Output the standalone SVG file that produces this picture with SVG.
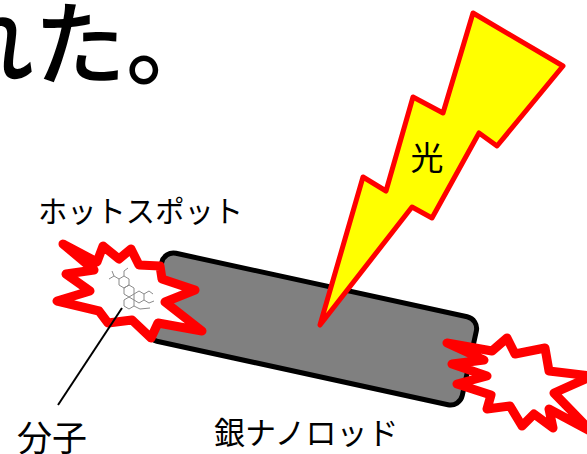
<svg xmlns="http://www.w3.org/2000/svg" width="587" height="454" viewBox="0 0 587 454">
  <style>
    .jp { font-family: "Noto Sans CJK JP", "Noto Sans", sans-serif; fill: #000; }
    .burst { fill: #fff; stroke: #ff0000; stroke-width: 9; stroke-linejoin: round; }
    .mol { fill: none; stroke: #8a8a8a; stroke-width: 1; }
  </style>

  <rect width="587" height="454" fill="#fff"/>

  <!-- headline fragment -->
  <text class="jp" x="-58" y="78" font-size="92" font-weight="500">れた。</text>

  <!-- silver nanorod -->
  <g id="nanorod">
    <rect x="-161" y="-45" width="322" height="90" rx="12" transform="translate(312,329) rotate(12.3)" fill="#808080" stroke="#000" stroke-width="5"/>
  </g>

  <!-- light bolt -->
  <g id="light">
    <polygon points="320,325 363,177 386,191 413,97 443,113 473,13 563,66 497,146 479,133 432,218 412,207" fill="#ffff00" stroke="#ff0000" stroke-width="5" stroke-linejoin="round"/>
    <text class="jp" x="427" y="170" font-size="33" text-anchor="middle">光</text>
  </g>

  <!-- hot spot at the left end -->
  <g id="hotspot-left">
    <polygon class="burst" points="63,244 97,262 103,246 119,259 131,249 139,265 160,266 162,279 195,290 165,302 202,331 158,323 151,338 132,320 108,323 99,311 57,301 90,291 66,274 94,270"/>
    <!-- molecule sketch -->
    <g class="mol">
      <polygon points="124,276 129,279 129,285 124,288 119,285 119,279"/>
      <polygon points="129,285 134,288 134,294 129,297 124,294 124,288"/>
      <polygon points="134,294 139,291 144,294 144,300 139,303 134,300"/>
      <polygon points="129,297 134,300 134,306 129,309 124,306 124,300"/>
      <polyline points="119,279 114,276 112,271"/>
      <polyline points="114,276 109,279"/>
      <polyline points="124,276 124,271 128,268"/>
      <polyline points="144,294 149,291 153,294"/>
      <polyline points="144,300 149,303 154,301"/>
      <polyline points="134,306 140,309 150,308"/>
    </g>
  </g>

  <!-- hot spot at the right end -->
  <g id="hotspot-right">
    <polygon class="burst" points="507,338 515,354 545,348 549,371 592,376 554,393 592,432 549,409 553,428 534,414 522,426 510,406 487,409 491,395 457,384 487,376 452,364 484,360 447,343 492,351"/>
  </g>

  <!-- leader from label to molecule -->
  <g id="connectors">
    <line x1="58" y1="405" x2="122" y2="308" stroke="#000" stroke-width="2"/>
  </g>

  <g id="label-hotspot"><text class="jp" x="38" y="222" font-size="30" textLength="205" lengthAdjust="spacingAndGlyphs">ホットスポット</text></g>
  <g id="label-molecule"><text class="jp" x="17" y="451" font-size="35">分子</text></g>
  <g id="label-rod"><text class="jp" x="214" y="444" font-size="31">銀ナノロッド</text></g>
</svg>
